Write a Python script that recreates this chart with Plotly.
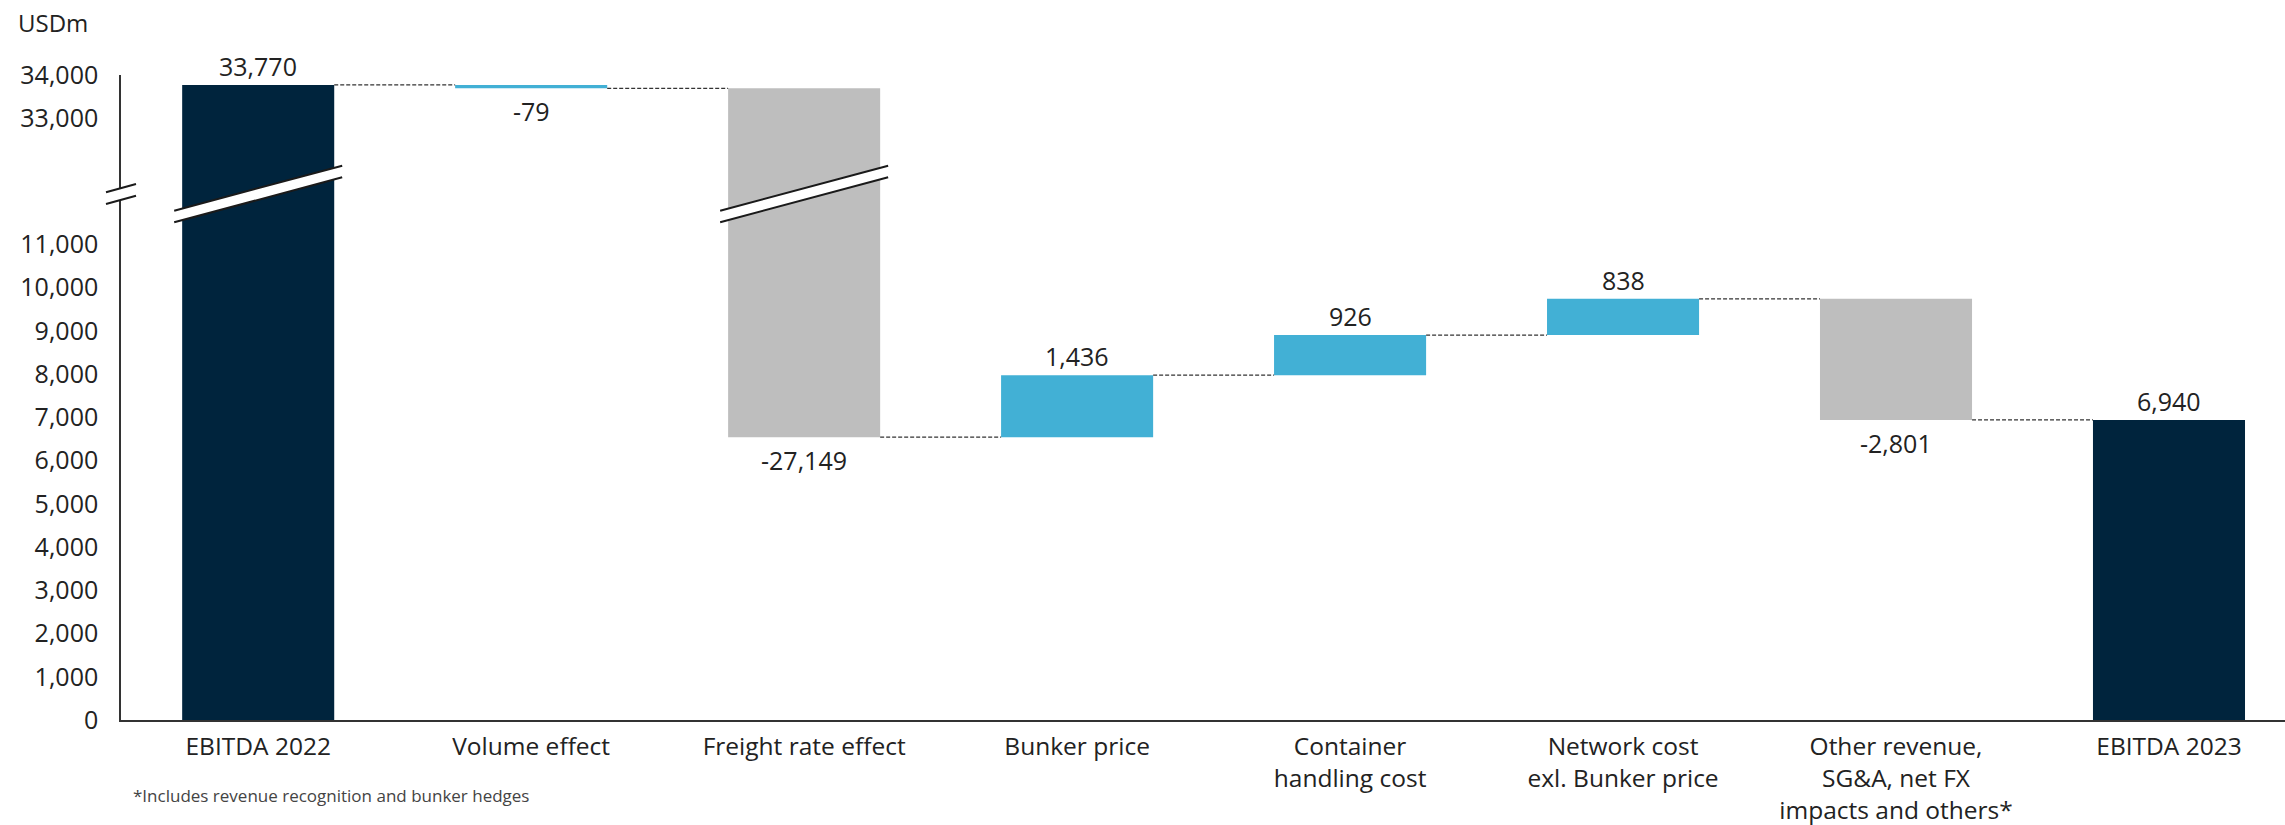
import plotly.graph_objects as go

# ---------------- data ----------------
categories = ["EBITDA 2022", "Volume effect", "Freight rate effect", "Bunker price",
              "Container<br>handling cost", "Network cost<br>exl. Bunker price",
              "Other revenue,<br>SG&A, net FX<br>impacts and others*", "EBITDA 2023"]
values = [33770, -79, -27149, 1436, 926, 838, -2801, 6940]
is_total = [True, False, False, False, False, False, False, True]
lower_ticks = [0, 1000, 2000, 3000, 4000, 5000, 6000, 7000, 8000, 9000, 10000, 11000]
upper_ticks = [33000, 34000]

# ---------------- style ----------------
bar_colors = ["#00243D", "#42B0D5", "#BEBEBE", "#42B0D5", "#42B0D5", "#42B0D5", "#BEBEBE", "#00243D"]
FONT = "Open Sans"
TXT = "#222222"
W, H = 2285, 825
ML, MR, MT, MB = 121, 0, 75, 105
PPU = 0.043228          # pixels per USDm
BREAK_PX = 194          # pixel row of the axis break
OVERLAP = 3             # px overlap of the two panels (hides seam)

plot_h = H - MT - MB
base_px = H - MB
f_break = (base_px - BREAK_PX) / plot_h
lower_dom_top = (base_px - BREAK_PX + OVERLAP) / plot_h
upper_dom_bot = (base_px - BREAK_PX - OVERLAP) / plot_h
lower_top = (base_px - BREAK_PX + OVERLAP) / PPU
upper_top = 34000
upper_bottom = upper_top - (BREAK_PX + OVERLAP - MT) / PPU
break_lo = (base_px - BREAK_PX) / PPU
break_hi = upper_top - (BREAK_PX - MT) / PPU
BAR_W = 0.557

# ---------------- waterfall geometry from data ----------------
bases, heights, ends, running = [], [], [], 0
for v, tot in zip(values, is_total):
    if tot:
        b, t = 0, v
        running = v
    else:
        start = running
        running = running + v
        b, t = min(start, running), max(start, running)
    bases.append(b)
    heights.append(t - b)
    ends.append(running)

xs = list(range(len(categories)))

fig = go.Figure()
for yax in ["y", "y2"]:
    fig.add_trace(go.Bar(x=xs, y=heights, base=bases, width=BAR_W,
                         marker=dict(color=bar_colors, line=dict(width=0)),
                         xaxis="x", yaxis=yax, showlegend=False, hoverinfo="skip"))
    cx, cy = [], []
    for i in range(len(xs) - 1):
        lvl = ends[i]
        cx += [xs[i] + BAR_W / 2, xs[i + 1] - BAR_W / 2, None]
        cy += [lvl, lvl, None]
    fig.add_trace(go.Scatter(x=cx, y=cy, mode="lines", xaxis="x", yaxis=yax,
                             line=dict(color="#333333", width=1.3, dash="4px,2px"),
                             showlegend=False, hoverinfo="skip"))

# value labels
annotations = []
for i, v in enumerate(values):
    if is_total[i] or v > 0:
        lvl, shift = bases[i] + heights[i], 19
    else:
        lvl, shift = bases[i], -23
    yref = "y2" if lvl > break_lo else "y"
    annotations.append(dict(x=xs[i], y=lvl, xref="x", yref=yref, text=f"{v:,}",
                            showarrow=False, yanchor="middle", xanchor="center", yshift=shift,
                            font=dict(family=FONT, size=25, color=TXT)))

annotations.append(dict(x=(16 - ML) / (W - ML - MR), y=(base_px - 23) / plot_h, xref="paper", yref="paper",
                        text="USDm", showarrow=False, xanchor="left", yanchor="middle",
                        font=dict(family=FONT, size=24, color=TXT)))
annotations.append(dict(x=(131 - ML) / (W - ML - MR), y=(base_px - 795) / plot_h, xref="paper", yref="paper",
                        text="*Includes revenue recognition and bunker hedges", showarrow=False,
                        xanchor="left", yanchor="middle",
                        font=dict(family=FONT, size=17, color="#444444")))

# break marks
shapes = []
def break_mark(xref, xanchor, half_w, y_left_up, y_left_lo, y_right_up, y_right_lo):
    poly = (f"M {-half_w},{y_left_up} L {half_w},{y_right_up} "
            f"L {half_w},{y_right_lo} L {-half_w},{y_left_lo} Z")
    shapes.append(dict(type="path", xref=xref, yref="paper", xsizemode="pixel", ysizemode="pixel",
                       xanchor=xanchor, yanchor=f_break, path=poly, fillcolor="white",
                       line=dict(width=0), layer="above"))
    lines = (f"M {-half_w},{y_left_up} L {half_w},{y_right_up} "
             f"M {-half_w},{y_left_lo} L {half_w},{y_right_lo}")
    shapes.append(dict(type="path", xref=xref, yref="paper", xsizemode="pixel", ysizemode="pixel",
                       xanchor=xanchor, yanchor=f_break, path=lines,
                       line=dict(color="#1a1a1a", width=2), layer="above"))

for i in range(len(xs)):
    if bases[i] < break_lo and bases[i] + heights[i] > break_hi:
        break_mark("x", xs[i], 84, -16.7, -28.3, 28.3, 16.7)
break_mark("paper", 0, 15, 1.7, -10, 10, -1.7)

x_lo = -0.5026
x_hi = 7.425

fig.update_layout(
    width=W, height=H, autosize=False,
    margin=dict(l=ML, r=MR, t=MT, b=MB, pad=0),
    paper_bgcolor="white", plot_bgcolor="white",
    font=dict(family=FONT, size=25, color=TXT),
    barmode="overlay",
    showlegend=False,
    annotations=annotations,
    shapes=shapes,
    xaxis=dict(range=[x_lo, x_hi], tickvals=xs, ticktext=categories, anchor="y", automargin=False,
               showline=True, linecolor="#333333", linewidth=2, showgrid=False, zeroline=False,
               ticks="", ticklabelstandoff=4, tickfont=dict(family=FONT, size=24.5, color=TXT)),
    yaxis=dict(domain=[0, lower_dom_top], range=[0, lower_top], tickvals=lower_ticks, tickformat=",d",
               showline=True, linecolor="#333333", linewidth=1.5, showgrid=False, zeroline=False,
               ticks="", ticklabelstandoff=16, anchor="x", automargin=False,
               tickfont=dict(family=FONT, size=25, color=TXT)),
    yaxis2=dict(domain=[upper_dom_bot, 1], range=[upper_bottom, upper_top], tickvals=upper_ticks,
                tickformat=",d", showline=True, linecolor="#333333", linewidth=1.5, showgrid=False,
                zeroline=False, ticks="", ticklabelstandoff=16, anchor="x", automargin=False,
                tickfont=dict(family=FONT, size=25, color=TXT)),
)

fig.write_html("out.html")
